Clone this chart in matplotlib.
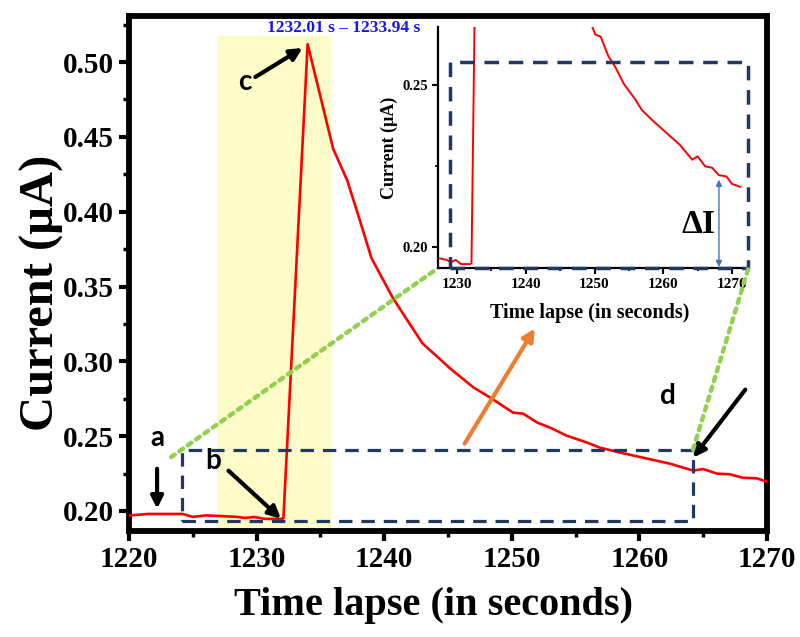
import matplotlib
matplotlib.use("Agg")
import matplotlib.pyplot as plt
from matplotlib.patches import Rectangle, ConnectionPatch
from matplotlib.ticker import MultipleLocator, FormatStrFormatter

# ---------------- data ----------------
time_s = [1220, 1221.5, 1223, 1224.2, 1225, 1226, 1227.2, 1228.5, 1229.1, 1229.8,
          1230.6, 1231.9, 1232.1, 1234.0, 1236.0, 1237.1, 1238.1, 1239.0, 1240.7,
          1242.0, 1243.0, 1245.2, 1247.0, 1248.3, 1250.1, 1250.9, 1252.0, 1253.0,
          1254.3, 1255.9, 1256.9, 1258.5, 1260.6, 1262.4, 1264.2, 1265.0, 1266.1,
          1267.1, 1268.1, 1269.2, 1270.0, 1271.2]
current_uA = [0.197, 0.198, 0.198, 0.198, 0.196, 0.197, 0.1966, 0.196, 0.1953, 0.196,
              0.1947, 0.1947, 0.1950, 0.512, 0.442, 0.421, 0.394, 0.369, 0.342,
              0.325, 0.312, 0.295, 0.2825, 0.2758, 0.2657, 0.2650, 0.259, 0.2557,
              0.2503, 0.2457, 0.2423, 0.239, 0.235, 0.2316, 0.227, 0.228, 0.2249,
              0.2245, 0.2222, 0.2218, 0.2195, 0.2186]

main_xticks = [1220, 1230, 1240, 1250, 1260, 1270]
main_yticks = [0.20, 0.25, 0.30, 0.35, 0.40, 0.45, 0.50]
inset_xticks = [1230, 1240, 1250, 1260, 1270]
inset_yticks = [0.20, 0.25]

window_label = "1232.01 s \u2013 1233.94 s"
window_span = (1226.9, 1235.8)

SERIF = "Liberation Serif"
SANS = "Lato"

fig = plt.figure(figsize=(8.0, 6.37), dpi=100)
ax = fig.add_axes([129/800, 1-531/637, (767-129)/800, (531-16)/637])

# yellow highlight
ax.add_patch(Rectangle((window_span[0], 0.1866), window_span[1]-window_span[0], 0.5174-0.1866,
                       facecolor="#fdfbc8", edgecolor="none", zorder=0))

ax.plot(time_s, current_uA, color="#ff0000", lw=1.9, zorder=3)

ax.set_xlim(1220, 1270)
ax.set_ylim(0.1866, 0.5308)
ax.set_xticks(main_xticks)
ax.set_yticks(main_yticks)
ax.xaxis.set_minor_locator(MultipleLocator(5))
ax.yaxis.set_minor_locator(MultipleLocator(0.025))
ax.yaxis.set_major_formatter(FormatStrFormatter("%.2f"))
for s in ax.spines.values():
    s.set_linewidth(4.2)
ax.tick_params(which="major", direction="out", length=7, width=3, pad=4)
ax.tick_params(which="minor", direction="out", length=4, width=2.5)
for lab in ax.get_xticklabels() + ax.get_yticklabels():
    lab.set_fontfamily(SERIF)
    lab.set_fontweight("bold")
    lab.set_fontsize(21)

fig.text(434/800, 1-606/637, "Time lapse (in seconds)", fontfamily=SERIF, fontweight="bold",
         fontsize=29, ha="center", va="center")
fig.text(42/800, 1-293/637, "Current (\u03bcA)", fontfamily=SERIF, fontweight="bold",
         fontsize=35, ha="center", va="center", rotation=90)

# window text
ax.text(1236.8, 0.5228, window_label, color="#1414ff", fontfamily=SERIF, fontweight="bold",
        fontsize=12.5, ha="center", va="center", zorder=5)

# dashed rectangle in main
ax.add_patch(Rectangle((1224.15, 0.193), 1264.2-1224.15, 0.241-0.193, fill=False,
                       edgecolor="#1f3864", lw=2.3, linestyle=(0, (4.2, 2.8)), zorder=4))

arrow_kw = dict(arrowstyle="-|>", color="black", lw=3, mutation_scale=18, shrinkA=0, shrinkB=0)
lab_kw = dict(fontfamily=SANS, fontweight="bold", fontsize=20, ha="center", va="center")
ax.text(1222.2, 0.249, "a", **lab_kw)
ax.annotate("", xy=(1222.2, 0.2015), xytext=(1222.2, 0.2282), arrowprops=arrow_kw)
ax.text(1226.6, 0.2336, "b", **lab_kw)
ax.annotate("", xy=(1231.9, 0.1948), xytext=(1227.8, 0.2269), arrowprops=arrow_kw)
ax.text(1229.1, 0.487, "c", **lab_kw)
ax.annotate("", xy=(1233.6, 0.5094), xytext=(1229.9, 0.490), arrowprops=arrow_kw)
ax.text(1262.2, 0.277, "d", **lab_kw)
ax.annotate("", xy=(1264.2, 0.2356), xytext=(1268.3, 0.2811), arrowprops=arrow_kw)

ax.annotate("", xy=(1251.8, 0.322), xytext=(1246.3, 0.245),
            arrowprops=dict(arrowstyle="-|>", color="#ed7d31", lw=3, mutation_scale=18,
                            shrinkA=0, shrinkB=0))

# ---------------- inset ----------------
ins = fig.add_axes([438/800, 1-268/637, (743-438)/800, (268-27)/637])
ins.set_facecolor("none")
ins.plot(time_s, current_uA, color="#ff0000", lw=1.4)
ins.set_xlim(1227.23, 1271.6)
ins.set_ylim(0.1935, 0.268)
ins.set_xticks(inset_xticks)
ins.set_yticks(inset_yticks)
ins.xaxis.set_minor_locator(MultipleLocator(5))
ins.yaxis.set_minor_locator(MultipleLocator(0.025))
ins.yaxis.set_major_formatter(FormatStrFormatter("%.2f"))
ins.spines["top"].set_visible(False)
ins.spines["right"].set_visible(False)
ins.spines["left"].set_linewidth(1.6)
ins.spines["bottom"].set_linewidth(1.6)
ins.tick_params(which="major", direction="out", length=4, width=1.5, pad=3)
ins.tick_params(which="minor", direction="out", length=2.5, width=1.2)
for lab in ins.get_xticklabels():
    lab.set_fontfamily(SERIF); lab.set_fontweight("bold"); lab.set_fontsize(11)
for lab in ins.get_yticklabels():
    lab.set_fontfamily(SERIF); lab.set_fontweight("bold"); lab.set_fontsize(10.5)
fig.text(590/800, 1-313/637, "Time lapse (in seconds)", fontfamily=SERIF, fontweight="bold",
         fontsize=14.5, ha="center", va="center")
fig.text(389/800, 1-148/637, "Current (\u03bcA)", fontfamily=SERIF, fontweight="bold",
         fontsize=13, ha="center", va="center", rotation=90)

ins.add_patch(Rectangle((1228.98, 0.1935), 1272.36-1228.98, 0.2571-0.1935, fill=False,
                        edgecolor="#1f3864", lw=2.5, linestyle=(0, (4.2, 2.8)),
                        clip_on=False, zorder=4))
ins.annotate("", xy=(1268.1, 0.1938), xytext=(1268.1, 0.2208),
             arrowprops=dict(arrowstyle="<|-|>", color="#4472c4", lw=1.0, mutation_scale=9,
                             shrinkA=0, shrinkB=0))
ins.text(1267.6, 0.2068, "\u0394I", fontfamily=SERIF, fontweight="bold", fontsize=24,
         ha="right", va="center")

# green dotted connectors
for xyA, xyB in [((1223.3, 0.236), (1227.23, 0.1935)), ((1264.2, 0.241), (1272.4, 0.1935))]:
    con = ConnectionPatch(xyA=xyA, coordsA=ax.transData, xyB=xyB, coordsB=ins.transData,
                          color="#92d050", lw=3.2, linestyle=(0, (1, 1.3)), zorder=6)
    fig.add_artist(con)

fig.savefig("out.png", dpi=100)
